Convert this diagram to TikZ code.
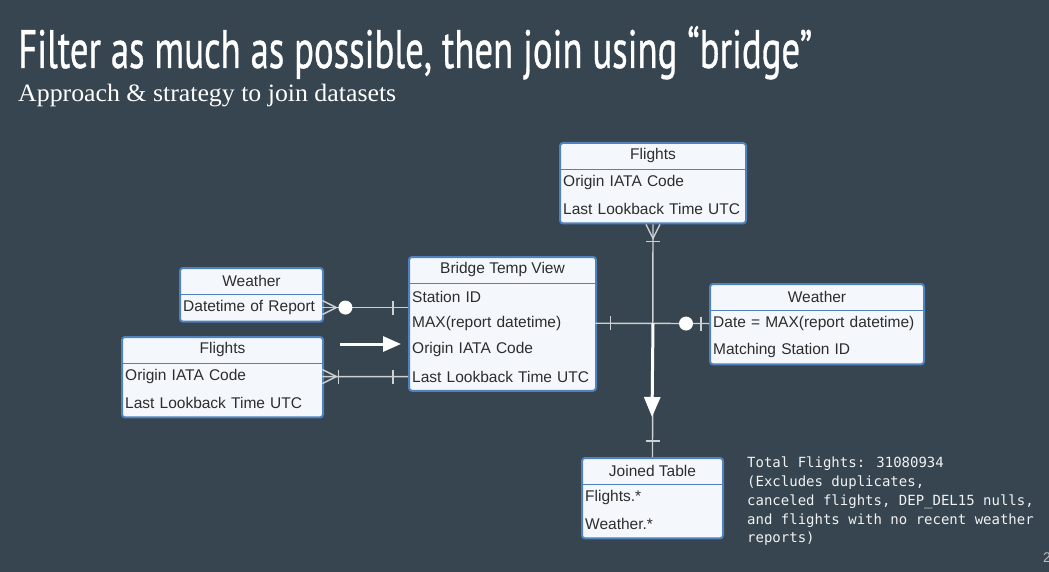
\documentclass[tikz,border=0pt]{standalone}
\usepackage{graphicx}
\usepackage{fontspec}
\setmainfont{Liberation Sans}
\newfontfamily\titlefont[FakeBold=0.8]{PT Sans}
\newfontfamily\subfont{Liberation Serif}
\newfontfamily\notefont{DejaVu Sans Mono}
\usetikzlibrary{arrows.meta}

\definecolor{slide}{RGB}{54,69,79}
\definecolor{entfill}{RGB}{244,248,253}
\definecolor{entedge}{RGB}{80,130,190}
\definecolor{enttext}{RGB}{45,45,45}
\definecolor{connc}{RGB}{205,208,212}
\definecolor{notec}{RGB}{240,242,244}

\tikzset{
  entbox/.style={draw=entedge, line width=2pt, fill=entfill, rounded corners=3pt, inner sep=0pt},
  enthead/.style={inner sep=0pt, minimum height=27pt, text=enttext, font=\fontsize{15.5}{18}\selectfont},
  entrow/.style={inner xsep=4pt, inner ysep=0pt, minimum height=26.7pt, align=left, text=enttext, font=\fontsize{15.5}{18}\selectfont},
  entline/.style={draw=entedge, line width=1.6pt},
  conn/.style={draw=connc, line width=1.4pt},
  dot/.style={fill=white},
  flow/.style={draw=white, line width=3pt, -{Triangle[length=20pt,width=16pt]}},
}

% entity table: name, left, top, width, number of rows, title, rows
\newcommand\entity[7]{%
  \pgfmathsetmacro\entH{27+26.7*#5}%
  \pgfmathsetmacro\entRowW{#4-8}%
  \node[entbox, minimum width=#4pt, minimum height=\entH pt, anchor=north west] (#1) at (#2,#3) {};
  \node[enthead, minimum width=#4pt, anchor=north] (#1-h) at (#1.north) {#6};
  \draw[entline] (#1-h.south west) -- (#1-h.south east);
  \foreach \r [count=\i] in {#7} {
    \pgfmathsetmacro\entY{#3+27+26.7*(\i-1)}%
    \node[entrow, text width=\entRowW pt, anchor=north west] (#1-\i) at (#2,\entY) {\r};
  }%
}

\begin{document}
\begin{tikzpicture}[x=1pt,y=-1pt]
\fill[slide] (0,0) rectangle (1049,572);
\useasboundingbox (0,0) rectangle (1049,572);

% heading
\node[anchor=base west, inner sep=0pt, text=white] (title) at (18,68)
  {\resizebox{794pt}{\height}{\titlefont\fontsize{54}{60}\selectfont Filter as much as possible, then join using “bridge”}};
\node[anchor=base west, inner sep=0pt, text=white] (subtitle) at (18,102)
  {\resizebox{378pt}{\height}{\subfont\fontsize{25}{30}\selectfont Approach \& strategy to join datasets}};

% tables
\entity{ft}{559}{142}{186}{2}{Flights}{Origin IATA Code, Last Lookback Time UTC}
\entity{wl}{179}{267}{143}{1}{Weather}{Datetime of Report}
\entity{fl}{121}{336}{201}{2}{Flights}{Origin IATA Code, Last Lookback Time UTC}
\entity{br}{408}{256}{187}{4}{Bridge Temp View}{Station ID, MAX(report datetime), Origin IATA Code, Last Lookback Time UTC}
\entity{wr}{709}{283}{214}{2}{Weather}{Date = MAX(report datetime), Matching Station ID}
\entity{jt}{581}{457}{141}{2}{Joined Table}{Flights.*, Weather.*}

% weather (left) -- bridge : zero-or-many to one
\draw[conn] (wl-1.east) -- (wl-1.east -| br.west);
\draw[conn] (wl-1.east) -- ([xshift=14pt]wl-1.east);
\draw[conn] (wl-1.east) ++(0,-7) -- ++(14,7) -- ++(-14,7);
\fill[dot] ([xshift=23pt]wl-1.east) circle (7pt);
\draw[conn] ([xshift=-15pt]wl-1.east -| br.west) ++(0,-7) -- ++(0,14);

% flights (left) -- bridge : one-or-many to one
\draw[conn] (fl-1.east) -- (br-4.west);
\draw[conn] (fl-1.east) ++(0,-7) -- ++(14,7) -- ++(-14,7);
\draw[conn] ([xshift=16pt]fl-1.east) ++(0,-7) -- ++(0,14);
\draw[conn] ([xshift=-15pt]br-4.west) ++(0,-7) -- ++(0,14);

% bridge -- weather (right) : one to zero-or-one
\draw[conn] (br-2.east) -- (wr-1.west);
\draw[conn] ([xshift=15pt]br-2.east) ++(0,-7) -- ++(0,14);
\fill[dot] ([xshift=-23pt]wr-1.west) circle (7pt);
\draw[conn] ([xshift=-8pt]wr-1.west) ++(0,-7) -- ++(0,14);

% flights (top) -- joined table : one-or-many to one
\coordinate (jn) at (br-2.east -| ft.south);
\draw[conn] (ft.south) -- (jt.north);
\draw[conn] (ft.south) ++(-7,0) -- ++(7,14) -- ++(7,-14);
\draw[conn] ([yshift=-17pt]ft.south) ++(-7,0) -- ++(14,0);
\draw[conn] ([yshift=16pt]jt.north) ++(-7,0) -- ++(14,0);

% data flow arrows
\coordinate (flowend) at (652,417);
\draw[flow] (jn) -- (flowend);
\coordinate (inA) at (340,344);
\coordinate (inB) at (401,344);
\draw[flow, -{Triangle[length=18pt,width=15pt]}] (inA) -- (inB);

% note
\node[anchor=north west, inner sep=0pt, align=left, text=notec,
      font=\notefont\fontsize{14}{18.7}\selectfont] (note) at (747,457)
  {Total Flights: 31080934\\(Excludes duplicates,\\canceled flights, DEP\_DEL15 nulls,\\and flights with no recent weather\\reports)};

% page number
\node[anchor=base west, inner sep=0pt, text=notec!70!slide, font=\fontsize{14}{16}\selectfont] (page) at (1043,562) {2};
\end{tikzpicture}
\end{document}
